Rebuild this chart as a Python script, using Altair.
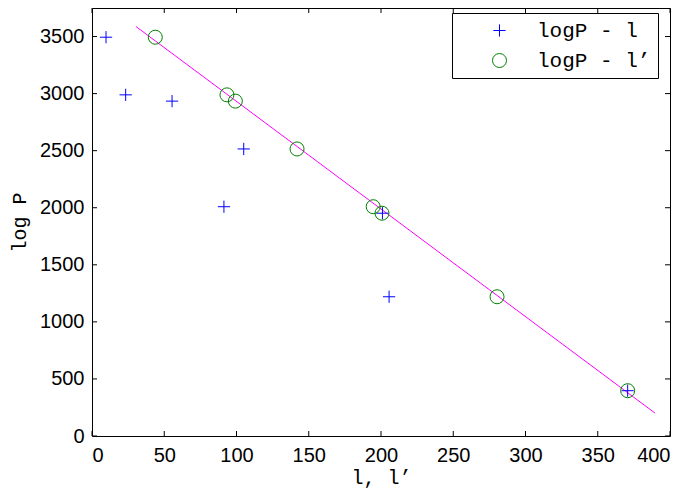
import altair as alt
import pandas as pd

# ---- data ----
logP = [3494, 2989, 2934, 2515, 2009, 1952, 1220, 397]
l_vals = [9.7, 23.3, 55.4, 105.0, 91.3, 201.0, 205.6, 370.7]
lp_vals = [43.8, 93.4, 99.2, 141.9, 194.6, 200.7, 280.3, 370.7]
fit_x = [30.4, 389.6]
fit_y = [3588, 201]
series_names = ["logP - l", "logP - l’"]
x_ticks = [0, 50, 100, 150, 200, 250, 300, 350, 400]
y_ticks = [0, 500, 1000, 1500, 2000, 2500, 3000, 3500]

W, H = 578, 428
PLUS = "M-1,0L1,0M0,-1L0,1"

pts = pd.DataFrame(
    {"x": l_vals + lp_vals,
     "y": logP + logP,
     "series": [series_names[0]] * len(l_vals) + [series_names[1]] * len(lp_vals)}
)
fit = pd.DataFrame({"x": fit_x, "y": fit_y})
xt = pd.DataFrame({"x": x_ticks})
yt = pd.DataFrame({"y": y_ticks})

xscale = alt.Scale(domain=[0, 400], nice=False, zero=False)
yscale = alt.Scale(domain=[0, 3750], nice=False, zero=False)
xaxis = alt.Axis(values=x_ticks, format="d", labelPadding=9, titlePadding=2)
yaxis = alt.Axis(values=y_ticks, format="d", labelPadding=8, titlePadding=10)
X = lambda f: alt.X(f, scale=xscale, axis=xaxis, title="l, l’")
Y = lambda f: alt.Y(f, scale=yscale, axis=yaxis, title="log P")

legend = alt.Legend(
    title=None, orient="none", legendX=360, legendY=5,
    strokeColor="black", fillColor="white", padding=7,
    labelFont="Liberation Mono", labelFontSize=21, labelColor="black",
    symbolSize=170, symbolStrokeWidth=1, symbolOffset=30, labelOffset=27,
    rowPadding=8,
)

fit_line = alt.Chart(fit).mark_line(color="#ff00ff", strokeWidth=1).encode(
    x=X("x:Q"), y=Y("y:Q")
)

points = alt.Chart(pts).mark_point(filled=False, strokeWidth=1, opacity=1).encode(
    x=X("x:Q"), y=Y("y:Q"),
    color=alt.Color("series:N", scale=alt.Scale(domain=series_names, range=["#0000ff", "#008000"]), legend=legend),
    shape=alt.Shape("series:N", scale=alt.Scale(domain=series_names, range=[PLUS, "circle"]), legend=legend),
    size=alt.Size("series:N", scale=alt.Scale(domain=series_names, range=[150, 196]), legend=None),
)

tick_len = 5
bottom = alt.Chart(xt).mark_rule(color="black", strokeWidth=1).encode(
    x=X("x:Q"), y=alt.value(H), y2=alt.value(H - tick_len))
top = alt.Chart(xt).mark_rule(color="black", strokeWidth=1).encode(
    x=X("x:Q"), y=alt.value(0), y2=alt.value(tick_len))
left = alt.Chart(yt).mark_rule(color="black", strokeWidth=1).encode(
    y=Y("y:Q"), x=alt.value(0), x2=alt.value(tick_len))
right = alt.Chart(yt).mark_rule(color="black", strokeWidth=1).encode(
    y=Y("y:Q"), x=alt.value(W), x2=alt.value(W - tick_len))

chart = alt.layer(bottom, top, left, right, fit_line, points).properties(
    width=W, height=H,
    autosize=alt.AutoSizeParams(type="none"),
    padding={"left": 84, "top": 0, "right": 10, "bottom": 58},
    background="white",
).configure_view(
    stroke="black", strokeWidth=1
).configure_axis(
    domain=False, ticks=False, grid=False,
    labelFont="Liberation Sans", labelFontSize=20, labelColor="black",
    titleFont="Liberation Mono", titleFontSize=20, titleFontWeight="normal",
    titleColor="black",
)

chart.save("out.html", embed_options={"renderer": "svg", "actions": False})
